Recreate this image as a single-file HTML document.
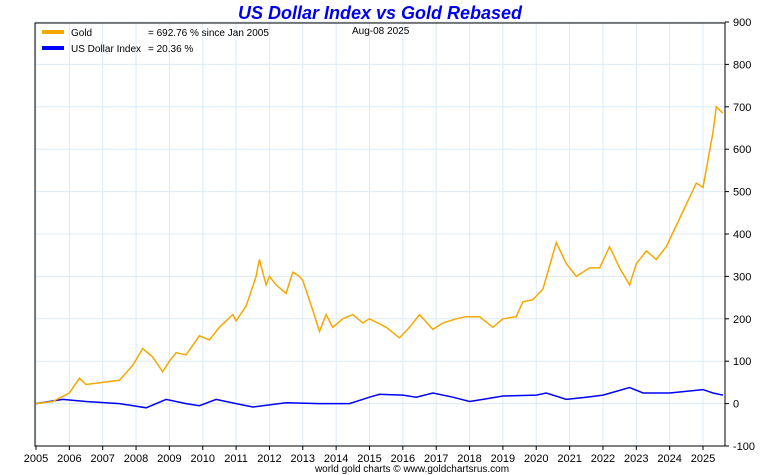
<!DOCTYPE html>
<html><head><meta charset="utf-8"><style>
body{margin:0;background:#fff;}
svg{display:block;font-family:"Liberation Sans",sans-serif;}
</style></head><body>
<svg id="c" width="760" height="475">
<text x="380" y="19" text-anchor="middle" font-size="18" font-weight="bold" font-style="italic" fill="#0000ee">US Dollar Index vs Gold Rebased</text>
<g id="grid"></g>
<g id="series"></g>
<rect x="35" y="23" width="690" height="423" fill="none" stroke="#000" stroke-width="1"/>
<g id="axes"></g>
<g>
<line x1="42" y1="32" x2="64" y2="32" stroke="#f5a800" stroke-width="4"/>
<text x="71" y="36" font-size="10">Gold</text>
<text x="148" y="36" font-size="10">= 692.76 % since Jan 2005</text>
<line x1="42" y1="48" x2="64" y2="48" stroke="#0000ff" stroke-width="4"/>
<text x="71" y="52" font-size="10">US Dollar Index</text>
<text x="148" y="52" font-size="10">= 20.36 %</text>
</g>
<text x="352" y="34" font-size="10">Aug-08  2025</text>
<text x="412" y="472" text-anchor="middle" font-size="10">world gold charts © www.goldchartsrus.com</text>
</svg>
<script>
const years=[2005,2006,2007,2008,2009,2010,2011,2012,2013,2014,2015,2016,2017,2018,2019,2020,2021,2022,2023,2024,2025];
const yTicks=[900,800,700,600,500,400,300,200,100,0,-100];
const goldT=[2005.0,2005.5,2006.0,2006.3,2006.5,2007.0,2007.5,2007.9,2008.2,2008.5,2008.8,2009.0,2009.2,2009.5,2009.9,2010.2,2010.5,2010.9,2011.0,2011.3,2011.6,2011.7,2011.9,2012.0,2012.2,2012.5,2012.7,2012.9,2013.0,2013.3,2013.5,2013.7,2013.9,2014.2,2014.5,2014.8,2015.0,2015.5,2015.9,2016.2,2016.5,2016.9,2017.2,2017.6,2017.9,2018.3,2018.7,2019.0,2019.4,2019.6,2019.9,2020.2,2020.6,2020.9,2021.2,2021.6,2021.9,2022.2,2022.5,2022.8,2023.0,2023.3,2023.6,2023.9,2024.2,2024.5,2024.8,2025.0,2025.3,2025.4,2025.6];
const goldV=[0,5,25,60,45,50,55,90,130,110,75,100,120,115,160,150,180,210,195,230,300,340,280,300,280,260,310,300,290,220,170,210,180,200,210,190,200,180,155,180,210,175,190,200,205,205,180,200,205,240,245,270,380,330,300,320,320,370,320,280,330,360,340,370,420,470,520,510,640,700,685];
const usdT=[2005.0,2005.8,2006.5,2007.5,2008.3,2008.9,2009.5,2009.9,2010.4,2011.0,2011.5,2012.5,2013.5,2014.4,2015.0,2015.3,2016.0,2016.4,2016.9,2017.5,2018.0,2018.4,2019.0,2020.0,2020.3,2020.9,2021.5,2022.0,2022.8,2023.2,2024.0,2025.0,2025.3,2025.6];
const usdV=[0,10,5,0,-10,10,0,-5,10,0,-8,2,0,0,15,22,20,15,25,15,5,10,18,20,25,10,15,20,38,25,25,33,25,20];
const NS='http://www.w3.org/2000/svg';
const X=t=>36+(t-2005)*33.35;
const Y=v=>403.6-v*0.424;
const grid=document.getElementById('grid'),axes=document.getElementById('axes'),ser=document.getElementById('series');
function mk(tag,attrs,parent){const e=document.createElementNS(NS,tag);for(const k in attrs)e.setAttribute(k,attrs[k]);parent.appendChild(e);return e;}
years.forEach(y=>{
 const l=mk('line',{x1:X(y),x2:X(y),y1:23,y2:446,stroke:'#dcebf7','stroke-width':1},grid);
 
 
 const tk=mk('line',{x1:X(y),x2:X(y),y1:446,y2:450,stroke:'#000'},axes);
 
 
 const t=mk('text',{x:X(y),y:462,'text-anchor':'middle','font-size':11},axes);
 t.textContent=y;
 
 
});
yTicks.forEach(v=>{
 const l=mk('line',{x1:35,x2:725,y1:Y(v),y2:Y(v),stroke:'#dcebf7','stroke-width':1},grid);
 
 
 const tk=mk('line',{x1:725,x2:729,y1:Y(v),y2:Y(v),stroke:'#000'},axes);
 
 
 const t=mk('text',{x:733,y:Y(v)+4,'font-size':11},axes);
 t.textContent=v;
 
 
});
function pts(T,V){return T.map((t,i)=>X(t).toFixed(1)+','+Y(V[i]).toFixed(1)).join(' ');}
const u=mk('polyline',{points:pts(usdT,usdV),fill:'none',stroke:'#0000ff','stroke-width':1.5},ser);


const g=mk('polyline',{points:pts(goldT,goldV),fill:'none',stroke:'#f5a800','stroke-width':1.5},ser);


</script>
</body></html>
